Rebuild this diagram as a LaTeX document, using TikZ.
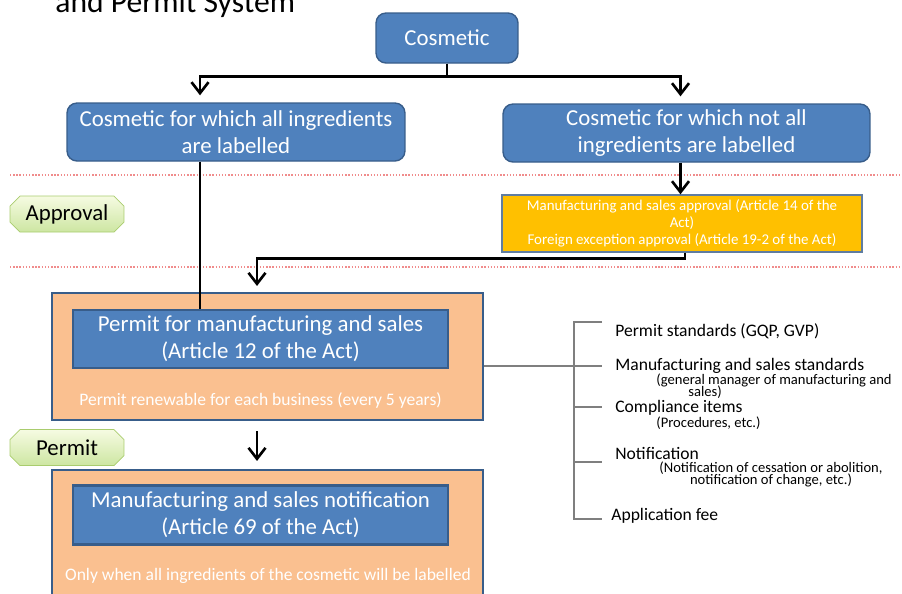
\documentclass[tikz,border=0pt]{standalone}
\usepackage{fontspec}
\setmainfont{Carlito}
\usetikzlibrary{arrows.meta,shapes.misc,positioning,calc}
\definecolor{boxblue}{HTML}{4F81BD}
\definecolor{boxedge}{HTML}{385D8A}
\definecolor{peach}{HTML}{FAC090}
\definecolor{amber}{HTML}{FFC000}
\definecolor{tagtop}{HTML}{F6FBE2}
\definecolor{tagbottom}{HTML}{CDE6A2}
\definecolor{tagedge}{HTML}{A9CC6E}
\definecolor{pinkline}{HTML}{F08C8C}
\definecolor{bracketgray}{HTML}{7F7F7F}
\newcommand{\bigtext}{\fontsize{13}{15.5}\selectfont}
\newcommand{\midtext}{\fontsize{10}{12}\selectfont}
\newcommand{\smalltext}{\fontsize{8.5}{9.7}\selectfont}
\newcommand{\subtext}{\fontsize{8.3}{7}\selectfont\lineskiplimit=-20pt}

\tikzset{
	auto,
	>={Straight Barb[length=2.2mm,width=3.4mm]},
	kindbox/.style={
		rectangle, rounded corners=2mm, inner sep=0pt,
		thick, draw=boxedge, fill=boxblue, text=white, align=center, font=\bigtext
	},
	%
	lawbox/.style={
		rectangle, minimum width=7.5cm, inner sep=0pt,
		very thick, draw=boxedge, fill=boxblue, text=white, align=center, font=\bigtext
	},
	%
	groupbox/.style={
		rectangle, minimum width=8.62cm, inner sep=0pt,
		very thick, draw=boxedge, fill=peach
	},
	%
	approvalbox/.style={
		rectangle, minimum width=7.2cm, minimum height=1.14cm, inner sep=0pt,
		thick, draw=boxedge!80, fill=amber, text=white, align=center, font=\smalltext
	},
	%
	tagbox/.style={
		chamfered rectangle, chamfered rectangle xsep=2.5pt,
		minimum width=2.28cm, minimum height=0.72cm, inner sep=0pt,
		draw=tagedge, top color=tagtop, bottom color=tagbottom, font=\bigtext
	},
	%
	flow/.style={->, line width=1.5pt},
	rowline/.style={pinkline, densely dotted, thick},
	bracket/.style={bracketgray, line width=0.6pt},
	item/.style={anchor=west, inner sep=0pt, font=\midtext},
	subitem/.style={inner sep=0pt, font=\subtext}
}

\begin{document}
\begin{tikzpicture}[x=0.02cm, y=-0.02cm]
    \useasboundingbox (0,0) rectangle (902,593);
    \node[anchor=base west, inner sep=0pt, font=\fontsize{18}{20}\selectfont] (title) at (55,12) {and Permit System};
    % the two kinds of cosmetic
    \node(Cos)[kindbox, minimum width=2.84cm, minimum height=1cm] at (447,38) {Cosmetic};
    \node(AllLab)[kindbox, minimum width=6.76cm, minimum height=1.16cm] at (236,132) {Cosmetic for which all ingredients\\are labelled};
    \node(NotAll)[kindbox, minimum width=7.34cm, minimum height=1.16cm] at (686.5,133) {Cosmetic for which not all\\ingredients are labelled};
    \draw[flow] (Cos.south) -- ++(0,13) -| ([xshift=-0.72cm,yshift=0.14cm]AllLab.north);
    \draw[flow] (Cos.south) -- ++(0,13) -| ([xshift=-0.12cm,yshift=0.14cm]NotAll.north);
    % approval row
    \draw[rowline] (10,175) -- (902,175);
    \draw[rowline] (10,267) -- (902,267);
    \node(ApprovalTag)[tagbox] at (67,214) {Approval};
    \node(Approv)[approvalbox] at (682,223.5) {Manufacturing and sales approval (Article 14 of the\\Act)\\Foreign exception approval (Article 19-2 of the Act)};
    \draw[flow] ([xshift=-0.12cm]NotAll.south) -- ([xshift=-0.12cm]NotAll.south |- Approv.north);
    % permit
    \node(PermitBox)[groupbox, minimum height=2.54cm] at (267.5,356.5) {};
    \node(PermitIn)[lawbox, minimum height=1.16cm] at (260.5,339) {Permit for manufacturing and sales\\(Article 12 of the Act)};
    \node(Renew)[text=white, font=\midtext, below=0.34cm of PermitIn] {Permit renewable for each business (every 5 years)};
    \draw[flow] ([xshift=0.06cm]Approv.south) -- ++(0,6) -| ([xshift=-0.21cm,yshift=0.12cm]PermitBox.north);
    \draw[line width=1.5pt] ([xshift=-0.72cm]AllLab.south) -- ([xshift=-0.72cm]AllLab.south |- PermitIn.north);
    \node(PermitTag)[tagbox] at (67,447.5) {Permit};
    % notification
    \node(NotifBox)[groupbox, minimum height=2.6cm] at (267.5,535) {};
    \node(NotifIn)[lawbox, minimum height=1.18cm] at (260.5,515) {Manufacturing and sales notification\\(Article 69 of the Act)};
    \node(OnlyWhen)[text=white, font=\midtext] at (268,576) {Only when all ingredients of the cosmetic will be labelled};
    \draw[flow] ([xshift=-0.21cm,yshift=-0.2cm]PermitBox.south) -- ([xshift=-0.21cm,yshift=0.16cm]NotifBox.north);
    % what the permit holder must keep to
    \node(GqpStd)[item] at (615,331) {Permit standards (GQP, GVP)};
    \node(MfgStd)[item] at (615,366) {Manufacturing and sales standards};
    \node(MfgSub)[subitem, anchor=west, align=left] at (656,386.5) {(general manager of manufacturing and\\\hspace*{0.64cm}sales)};
    \node(Comply)[item] at (615,408) {Compliance items};
    \node(ComplySub)[subitem, anchor=west] at (656,423) {(Procedures, etc.)};
    \node(Notif)[item] at (615,453) {Notification};
    \node(NotifSub)[subitem, align=center] at (771,474.5) {(Notification of cessation or abolition,\\notification of change, etc.)};
    \node(Fee)[item] at (611,516) {Application fee};
    \draw[bracket] (PermitBox.east |- MfgStd) -- (602,366);
    \draw[bracket] (602,322) -- (574,322) -- (574,519) -- (602,519);
    \draw[bracket] (574,407) -- (602,407);
    \draw[bracket] (574,462) -- (602,462);
\end{tikzpicture}
\end{document}
